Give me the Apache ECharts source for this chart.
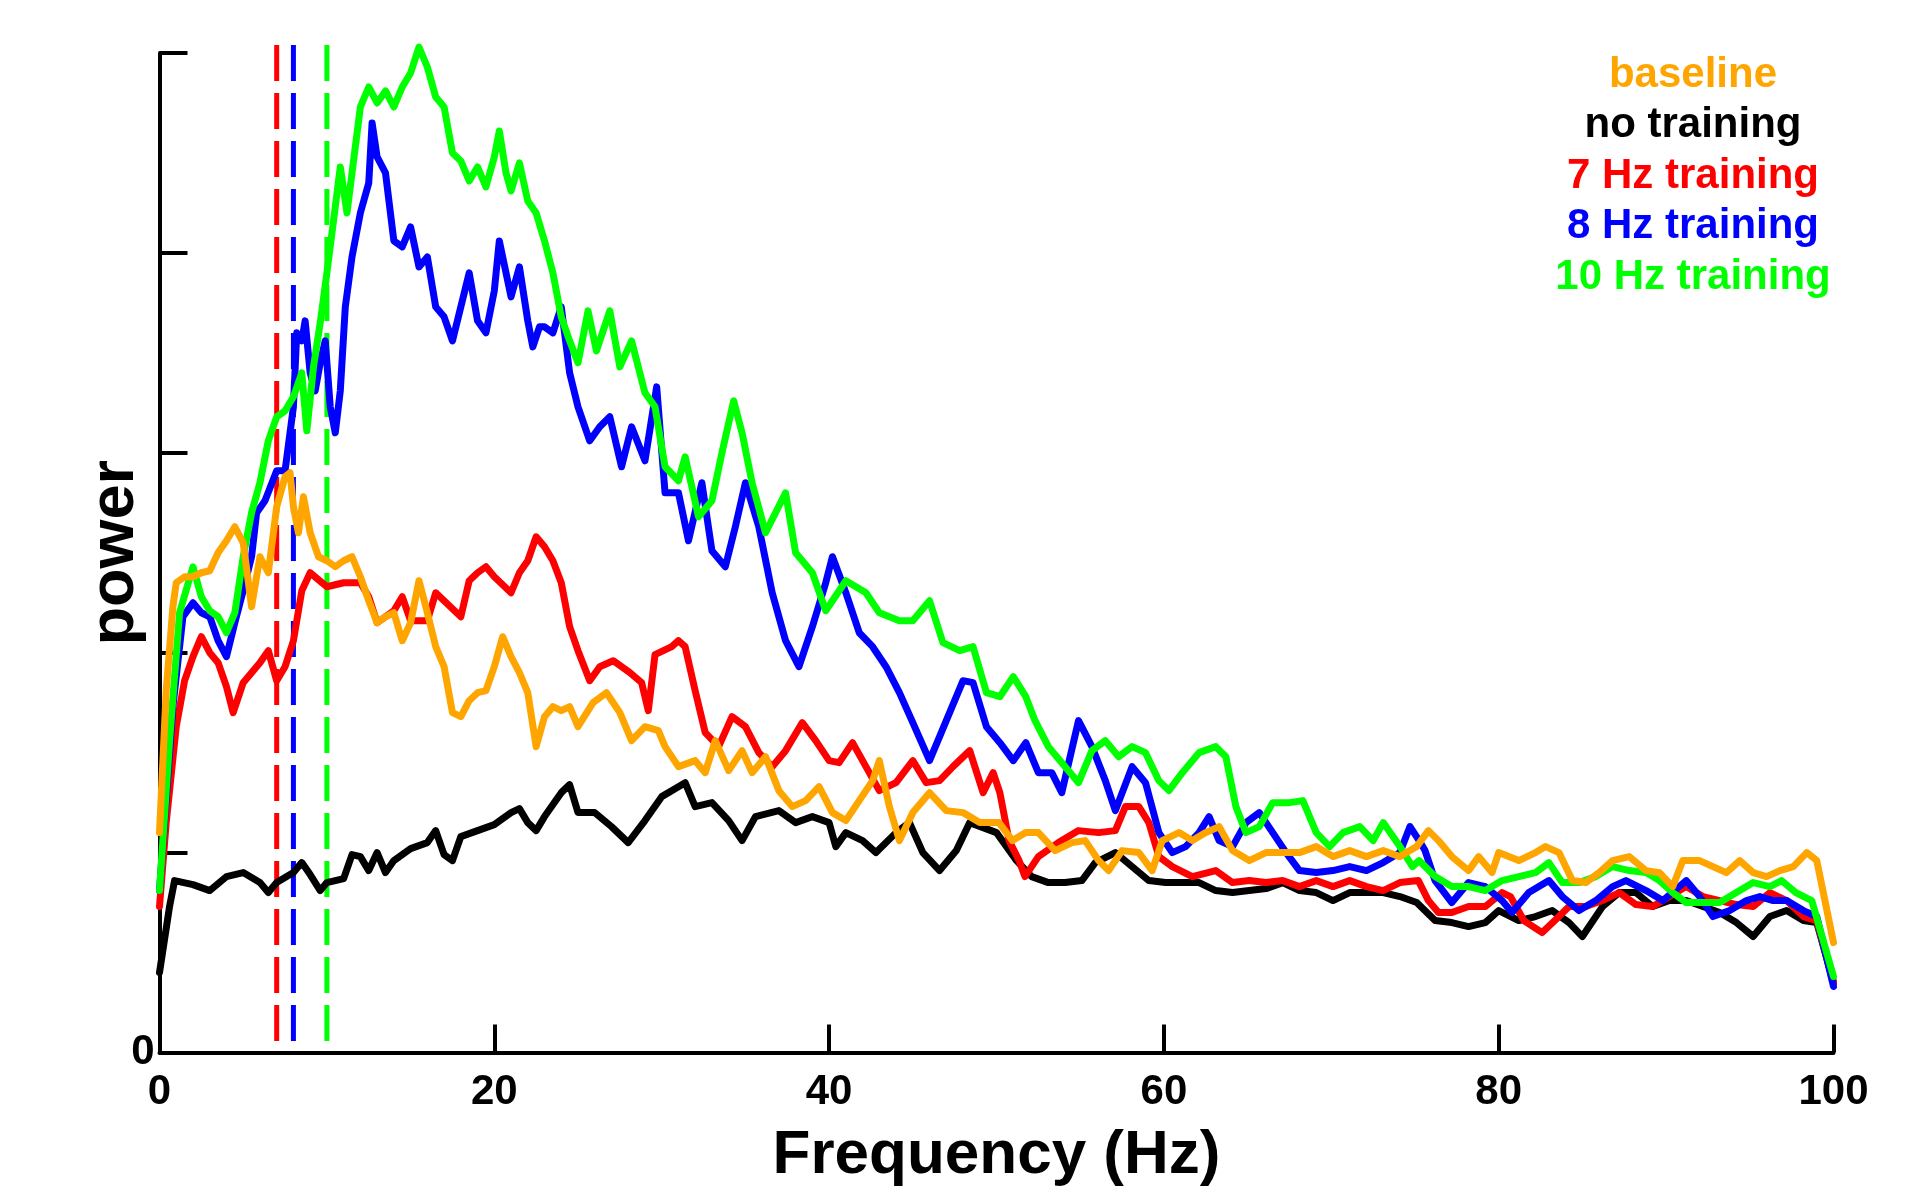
<!DOCTYPE html>
<html>
<head>
<meta charset="utf-8">
<script src="https://cdn.jsdelivr.net/npm/echarts@6/dist/echarts.min.js"></script>
<style>
html,body{margin:0;padding:0;background:#fff;}
#chart{width:1923px;height:1188px;}
</style>
</head>
<body>
<div id="chart"></div>
<script>
// ---- data (frequency Hz, power) ----
const seriesNames = ['baseline', 'no training', '7 Hz training', '8 Hz training', '10 Hz training'];
const seriesColors = ['#FFA500', '#000000', '#FF0000', '#0000FF', '#00FF00'];
const xTicks = [0, 20, 40, 60, 80, 100];
const trainingFreqs = [7, 8, 10];
const trainingColors = ['#FF0000', '#0000FF', '#00FF00'];

const noTraining = [[0,0.40],[0.6,0.73],[0.9,0.86],[2,0.84],[3,0.81],[4,0.88],[5,0.90],[6,0.85],[6.5,0.80],[7,0.85],[8,0.90],[8.5,0.95],[9,0.89],[9.6,0.81],[10,0.85],[11,0.87],[11.5,0.99],[12,0.98],[12.5,0.91],[13,1.00],[13.5,0.90],[14,0.96],[15,1.02],[16,1.05],[16.5,1.11],[17,0.99],[17.5,0.96],[18,1.08],[19,1.11],[20,1.14],[21,1.20],[21.5,1.22],[22,1.15],[22.5,1.11],[23,1.18],[24,1.30],[24.5,1.34],[25,1.20],[26,1.20],[27,1.13],[28,1.05],[29,1.16],[30,1.28],[31,1.33],[31.4,1.35],[32,1.23],[33,1.25],[34,1.16],[34.8,1.06],[35.6,1.18],[37,1.21],[38,1.15],[39,1.18],[40,1.15],[40.4,1.03],[41,1.10],[42,1.06],[42.8,1.00],[44,1.10],[44.8,1.15],[45.6,1.00],[46.6,0.91],[47.6,1.01],[48.4,1.15],[50,1.10],[51.2,0.96],[52.1,0.88],[53.1,0.85],[54.1,0.85],[55.1,0.86],[55.9,0.95],[57.1,1.00],[58.1,0.93],[59.1,0.86],[60.1,0.85],[61.1,0.85],[62.1,0.85],[63.1,0.81],[64.1,0.80],[65.1,0.81],[66.1,0.82],[67.1,0.85],[68.1,0.81],[69.1,0.80],[70.1,0.76],[71.1,0.80],[72.1,0.80],[73.1,0.80],[74.1,0.78],[75.1,0.75],[76.2,0.66],[77.2,0.65],[78.2,0.63],[79.2,0.65],[80,0.71],[81.2,0.66],[82.2,0.68],[83.2,0.71],[84.2,0.65],[85,0.58],[86.2,0.73],[87.2,0.80],[88.2,0.80],[89.2,0.73],[90.2,0.76],[91.2,0.76],[92.2,0.73],[93.2,0.70],[94.2,0.65],[95.2,0.58],[96.2,0.68],[97.2,0.71],[98.2,0.66],[99,0.65],[100,0.35]];

const hz7 = [[0,0.73],[0.4,1.15],[1,1.63],[1.5,1.86],[2,1.98],[2.5,2.08],[3,2.00],[3.5,1.95],[4,1.83],[4.4,1.70],[5,1.85],[6,1.95],[6.5,2.01],[7,1.86],[7.5,1.93],[8,2.06],[8.5,2.31],[9,2.40],[10,2.33],[11,2.35],[12,2.35],[12.5,2.28],[13,2.15],[14,2.21],[14.5,2.28],[15,2.16],[16,2.16],[16.5,2.30],[17,2.26],[18,2.18],[18.5,2.36],[19,2.40],[19.5,2.43],[20,2.38],[21,2.30],[21.5,2.40],[22,2.46],[22.5,2.58],[23,2.53],[23.5,2.46],[24,2.35],[24.5,2.13],[25,2.01],[25.7,1.86],[26.3,1.93],[27.1,1.96],[28.1,1.90],[28.8,1.85],[29.2,1.71],[29.6,1.99],[30.6,2.03],[31,2.06],[31.4,2.03],[32,1.81],[32.6,1.60],[33.4,1.53],[34.2,1.68],[35,1.63],[35.8,1.50],[36.6,1.43],[37.4,1.51],[38.4,1.65],[39.2,1.56],[40,1.46],[40.6,1.45],[41.4,1.55],[42.2,1.43],[43,1.31],[44,1.35],[45,1.46],[45.8,1.35],[46.6,1.36],[47.4,1.43],[48.4,1.51],[49.2,1.30],[49.8,1.40],[50.2,1.30],[50.75,1.06],[51.35,0.96],[51.7,0.88],[52.5,0.98],[53.7,1.05],[54.9,1.11],[56.1,1.10],[57.1,1.11],[57.7,1.23],[58.5,1.23],[59.1,1.15],[59.7,0.98],[60.5,0.93],[61.7,0.88],[63.1,0.91],[64.1,0.85],[65.1,0.86],[66.1,0.85],[67.1,0.86],[68.1,0.83],[69.1,0.86],[70.1,0.83],[71.1,0.86],[72.1,0.83],[73.1,0.81],[74.1,0.85],[75.2,0.86],[75.8,0.76],[76.4,0.70],[77.2,0.70],[78.2,0.73],[79.2,0.73],[80.2,0.80],[80.7,0.78],[81.5,0.66],[82.6,0.60],[83.6,0.68],[84.2,0.73],[85.2,0.73],[86.2,0.76],[87.2,0.80],[88.2,0.74],[89.2,0.73],[90.2,0.78],[91.2,0.83],[92.2,0.78],[93.2,0.76],[94.2,0.74],[95.2,0.73],[96.2,0.80],[97.2,0.76],[98.2,0.68],[99,0.66],[100,0.35]];

const hz8 = [[0,0.81],[0.8,1.73],[1.4,2.18],[2,2.25],[2.5,2.20],[3,2.18],[3.5,2.06],[4,1.98],[4.5,2.15],[5,2.31],[5.5,2.48],[5.8,2.70],[6.3,2.76],[7,2.91],[7.5,2.91],[8,3.23],[8.2,3.60],[8.5,3.56],[8.7,3.66],[9,3.40],[9.3,3.31],[9.6,3.45],[9.9,3.56],[10.2,3.23],[10.5,3.10],[10.8,3.31],[11.1,3.73],[11.5,3.98],[12,4.20],[12.5,4.35],[12.7,4.65],[13,4.48],[13.5,4.40],[14,4.06],[14.5,4.03],[15,4.13],[15.5,3.93],[16,3.98],[16.5,3.73],[17,3.68],[17.5,3.56],[18,3.73],[18.5,3.90],[19,3.66],[19.5,3.60],[20,3.81],[20.3,4.06],[20.7,3.90],[21,3.78],[21.5,3.93],[22,3.66],[22.3,3.53],[22.7,3.63],[23,3.63],[23.5,3.60],[24,3.73],[24.5,3.40],[25,3.23],[25.7,3.06],[26.3,3.13],[26.9,3.18],[27.6,2.93],[28.2,3.13],[29,2.96],[29.7,3.33],[30.2,2.80],[31,2.80],[31.6,2.56],[32.4,2.85],[33,2.51],[33.8,2.43],[34.4,2.63],[35,2.85],[35.8,2.63],[36.6,2.30],[37.4,2.06],[38.2,1.93],[39,2.13],[39.8,2.35],[40.2,2.48],[41,2.30],[41.8,2.10],[42.6,2.03],[43.4,1.93],[44.2,1.80],[45,1.65],[46,1.46],[47,1.66],[48,1.86],[48.6,1.85],[49.4,1.63],[50.2,1.55],[51,1.46],[51.75,1.55],[52.5,1.40],[53.3,1.40],[53.9,1.30],[54.9,1.66],[55.7,1.53],[56.5,1.36],[57.1,1.21],[58.1,1.43],[58.9,1.35],[59.7,1.10],[60.5,1.00],[61.3,1.03],[62.1,1.10],[62.7,1.18],[63.3,1.06],[64.1,1.03],[64.9,1.15],[65.7,1.20],[66.5,1.10],[67.3,1.00],[68.1,0.91],[69.1,0.90],[70.1,0.91],[71.1,0.93],[72.1,0.91],[73.1,0.95],[74.1,1.00],[74.7,1.13],[75.25,1.06],[75.6,1.01],[76.2,0.86],[77.2,0.75],[78.2,0.85],[79.2,0.83],[80.2,0.76],[80.8,0.70],[81.8,0.80],[83,0.86],[83.8,0.78],[84.8,0.71],[85.8,0.76],[86.8,0.83],[87.6,0.86],[88.8,0.81],[89.8,0.76],[91.2,0.86],[92,0.78],[92.8,0.68],[93.8,0.71],[94.8,0.76],[95.6,0.78],[96.4,0.76],[97.2,0.76],[98.2,0.71],[99,0.68],[100,0.33]];

const hz10 = [[0,0.81],[0.6,1.56],[1.2,2.20],[2,2.43],[2.5,2.28],[3,2.21],[3.5,2.18],[4,2.10],[4.5,2.20],[5,2.48],[5.5,2.70],[6,2.85],[6.5,3.06],[7,3.18],[7.5,3.21],[8,3.28],[8.5,3.40],[8.8,3.11],[9.2,3.43],[9.6,3.65],[10,3.90],[10.5,4.23],[10.8,4.43],[11.2,4.20],[11.5,4.40],[12,4.73],[12.5,4.83],[13,4.75],[13.5,4.81],[14,4.73],[14.5,4.83],[15,4.90],[15.5,5.03],[16,4.93],[16.5,4.78],[17,4.73],[17.5,4.50],[18,4.46],[18.5,4.36],[19,4.43],[19.5,4.33],[20,4.48],[20.3,4.61],[20.7,4.40],[21,4.31],[21.5,4.45],[22,4.26],[22.5,4.20],[23,4.06],[23.5,3.90],[24,3.68],[24.5,3.56],[25,3.45],[25.6,3.71],[26.1,3.51],[26.9,3.71],[27.5,3.43],[28.2,3.56],[29,3.30],[29.6,3.23],[30.2,2.93],[31,2.86],[31.4,2.98],[32.2,2.68],[33,2.76],[33.6,3.00],[34.3,3.26],[34.8,3.10],[35.4,2.85],[36.2,2.60],[37.4,2.80],[38,2.50],[39,2.40],[39.8,2.21],[41,2.36],[42.2,2.30],[43,2.20],[44.2,2.16],[45,2.16],[46,2.26],[46.8,2.05],[47.8,2.01],[48.6,2.03],[49.4,1.80],[50.2,1.78],[51,1.88],[51.75,1.78],[52.3,1.66],[53.1,1.53],[54.1,1.43],[54.9,1.35],[55.7,1.51],[56.5,1.56],[57.3,1.48],[58.1,1.53],[58.9,1.50],[59.7,1.36],[60.3,1.31],[61.1,1.40],[62.1,1.50],[63.1,1.53],[63.7,1.48],[64.3,1.23],[64.9,1.10],[65.7,1.13],[66.5,1.25],[67.5,1.25],[68.3,1.26],[69.1,1.10],[69.9,1.03],[70.7,1.10],[71.7,1.13],[72.5,1.06],[73.1,1.15],[74.1,1.03],[74.85,0.93],[75.24,0.96],[76.2,0.88],[77.2,0.83],[78.2,0.83],[79.2,0.81],[80.2,0.86],[81.2,0.88],[82.2,0.90],[83,0.95],[83.8,0.85],[84.8,0.85],[85.8,0.88],[86.8,0.93],[87.8,0.91],[88.8,0.90],[89.6,0.86],[90.4,0.80],[91.2,0.75],[92.2,0.75],[93.2,0.75],[94.2,0.80],[95.2,0.85],[96.2,0.83],[96.9,0.86],[97.75,0.80],[98.7,0.76],[100,0.38]];

const baseline = [[0,1.10],[0.4,1.81],[0.8,2.23],[1,2.35],[1.5,2.38],[2,2.38],[2.5,2.40],[3,2.41],[3.5,2.50],[4,2.56],[4.5,2.63],[5,2.55],[5.5,2.23],[6,2.48],[6.5,2.40],[7,2.73],[7.5,2.88],[7.8,2.90],[8,2.73],[8.3,2.60],[8.6,2.78],[9,2.60],[9.5,2.48],[10,2.46],[10.5,2.43],[11,2.46],[11.5,2.48],[12,2.38],[12.5,2.26],[13,2.15],[13.5,2.18],[14,2.20],[14.5,2.06],[15,2.15],[15.5,2.36],[16,2.20],[16.5,2.03],[17,1.93],[17.5,1.70],[18,1.68],[18.5,1.76],[19,1.80],[19.5,1.81],[20,1.93],[20.5,2.08],[21,1.98],[21.5,1.90],[22,1.80],[22.5,1.53],[23,1.68],[23.5,1.73],[24,1.71],[24.5,1.73],[25,1.63],[25.9,1.75],[26.7,1.80],[27.5,1.70],[28.2,1.56],[29,1.63],[29.8,1.61],[30.2,1.53],[31,1.43],[32,1.46],[32.6,1.40],[33.2,1.56],[34,1.41],[34.8,1.51],[35.4,1.40],[36.2,1.48],[37,1.31],[37.8,1.23],[38.6,1.26],[39.4,1.33],[40.2,1.20],[41,1.16],[41.8,1.26],[42.6,1.36],[43,1.46],[43.6,1.23],[44.2,1.06],[45,1.20],[46,1.30],[47,1.21],[48,1.20],[49,1.15],[50.15,1.15],[50.95,1.06],[51.75,1.10],[52.5,1.10],[53.5,1.01],[54.5,1.05],[55.3,1.06],[56.1,0.96],[56.7,0.91],[57.5,1.01],[58.5,1.00],[59.3,0.91],[59.9,1.06],[60.9,1.10],[61.7,1.06],[62.5,1.10],[63.3,1.13],[64.1,1.01],[65.1,0.96],[66.1,1.00],[67.1,1.00],[68.1,1.00],[69.1,1.03],[70.1,0.98],[71.1,1.01],[72.1,0.98],[73.1,1.01],[74.1,0.98],[75.1,1.03],[75.8,1.11],[76.4,1.06],[77.2,0.98],[78.2,0.91],[78.8,0.98],[79.6,0.90],[80,1.00],[81.2,0.96],[82.2,1.00],[82.8,1.03],[83.6,1.00],[84.4,0.86],[85.2,0.85],[86,0.90],[86.8,0.96],[87.8,0.98],[88.8,0.91],[89.6,0.90],[90.4,0.83],[91,0.96],[92,0.96],[92.8,0.93],[93.6,0.90],[94.4,0.96],[95.2,0.90],[96,0.88],[96.8,0.91],[97.6,0.93],[98.4,1.00],[99,0.96],[100,0.55]];

const seriesData = [baseline, noTraining, hz7, hz8, hz10];
const markerTop = 5.04;

// ---- chart ----
const FONT = '"Liberation Sans", Arial, Helvetica, sans-serif';
const chart = echarts.init(document.getElementById('chart'));

const dashSeries = trainingFreqs.map((f, i) => ({
  type: 'line',
  data: [[f, markerTop], [f, 0]],
  symbol: 'none',
  silent: true,
  clip: false,
  z: 1,
  lineStyle: { color: trainingColors[i], width: 5, type: [36, 12], cap: 'butt' }
}));

// draw order: no training, 7, 8, 10, baseline on top
const drawOrder = [1, 2, 3, 4, 0];
const lineSeries = drawOrder.map((idx, k) => ({
  name: seriesNames[idx],
  type: 'line',
  data: seriesData[idx],
  symbol: 'none',
  clip: false,
  z: 2 + k,
  lineStyle: { color: seriesColors[idx], width: 7, join: 'round', cap: 'round' }
}));

const legendY0 = 75, legendStep = 50.6;
const legendTexts = seriesNames.map((n, i) => ({
  type: 'text',
  x: 1693,
  y: legendY0 + i * legendStep,
  style: {
    text: n,
    fill: seriesColors[i],
    font: 'bold 42px ' + FONT,
    align: 'center',
    verticalAlign: 'middle'
  }
}));

chart.setOption({
  animation: false,
  backgroundColor: '#ffffff',
  grid: { left: 159.5, right: 89.5, top: 53, bottom: 135.5, outerBoundsMode: 'none' },
  xAxis: {
    type: 'value', min: xTicks[0], max: xTicks[xTicks.length - 1], interval: 20,
    name: 'Frequency (Hz)', nameLocation: 'middle', nameGap: 72,
    nameTextStyle: { fontSize: 62, fontWeight: 'bold', color: '#000', fontFamily: FONT, verticalAlign: 'top' },
    axisLine: { lineStyle: { color: '#000', width: 4 } },
    axisTick: { inside: true, length: 28, lineStyle: { color: '#000', width: 4 } },
    axisLabel: { fontSize: 42, fontWeight: 'bold', color: '#000', fontFamily: FONT, margin: 19 },
    splitLine: { show: false }
  },
  yAxis: {
    type: 'value', min: 0, max: 5, interval: 1,
    name: 'power', nameLocation: 'middle', nameGap: 12, nameRotate: 90, nameMoveOverlap: false,
    nameTextStyle: { fontSize: 63, fontWeight: 'bold', color: '#000', fontFamily: FONT },
    axisLine: { show: true, lineStyle: { color: '#000', width: 4 } },
    axisTick: { show: true, inside: true, length: 28, lineStyle: { color: '#000', width: 4 } },
    axisLabel: { fontSize: 42, fontWeight: 'bold', color: '#000', fontFamily: FONT, margin: 5,
      formatter: v => (v === 0 ? '0' : '') },
    splitLine: { show: false }
  },
  graphic: legendTexts,
  series: dashSeries.concat(lineSeries)
});
</script>
</body>
</html>
